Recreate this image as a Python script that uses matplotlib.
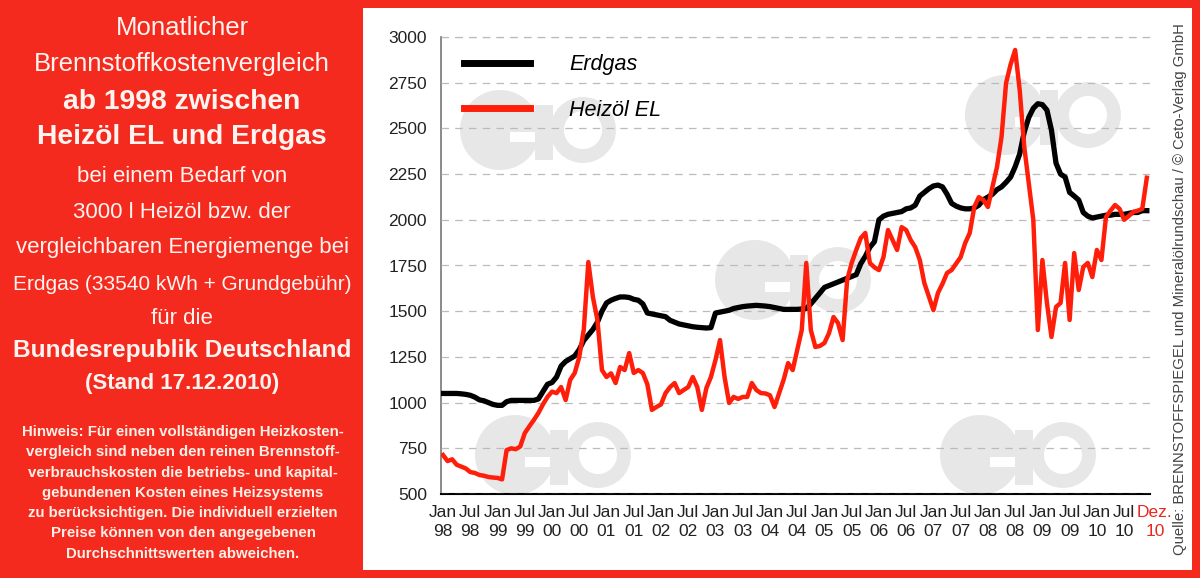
"""Monatlicher Brennstoffkostenvergleich Heizöl EL vs. Erdgas, 1998-2010."""

import matplotlib

matplotlib.use("Agg")
import matplotlib.pyplot as plt
from matplotlib.lines import Line2D
from matplotlib.patches import Ellipse, Rectangle
from matplotlib.transforms import ScaledTranslation

plt.rcParams["font.family"] = ["Liberation Sans", "DejaVu Sans"]

# monthly values Jan 1998 .. Dec 2010 (EUR)
ERDGAS = [
    1050, 1050, 1050, 1050, 1048, 1045, 1040, 1030, 1015, 1010, 1000, 990,
    985, 985, 1005, 1012, 1012, 1012, 1012, 1012, 1012, 1020, 1060, 1100,
    1110, 1140, 1200, 1225, 1240, 1255, 1290, 1340, 1370, 1400, 1440, 1500,
    1545, 1560, 1570, 1578, 1578, 1575, 1565, 1560, 1540, 1490, 1485, 1480,
    1475, 1470, 1450, 1440, 1430, 1425, 1420, 1415, 1412, 1410, 1408, 1410,
    1490, 1495, 1500, 1505, 1515, 1520, 1525, 1528, 1530, 1532, 1530, 1528,
    1525, 1520, 1515, 1510, 1510, 1510, 1510, 1512, 1515, 1540, 1570, 1600,
    1630, 1640, 1650, 1660, 1670, 1680, 1690, 1700, 1760, 1800, 1850, 1880,
    2000, 2020, 2030, 2035, 2040, 2045, 2060, 2065, 2080, 2130, 2150, 2170,
    2185, 2190, 2180, 2140, 2090, 2075, 2065, 2060, 2060, 2065, 2080, 2110,
    2124, 2140, 2165, 2180, 2205, 2234, 2290, 2360, 2480, 2560, 2610, 2635,
    2630, 2600, 2490, 2310, 2250, 2234, 2150, 2130, 2108, 2040, 2020, 2010,
    2015, 2020, 2025, 2025, 2030, 2030, 2030, 2035, 2040, 2040, 2050, 2050,
]

HEIZOEL = [
    713, 680, 690, 660, 650, 640, 620, 615, 604, 600, 593, 590,
    588, 580, 740, 750, 745, 760, 833, 870, 905, 943, 990, 1031,
    1060, 1052, 1085, 1014, 1124, 1162, 1249, 1400, 1769, 1578, 1452, 1178,
    1140, 1160, 1107, 1195, 1178, 1271, 1162, 1178, 1162, 1100, 960, 976,
    990, 1052, 1085, 1107, 1052, 1069, 1085, 1140, 1085, 960, 1080, 1140,
    1233, 1342, 1140, 998, 1031, 1020, 1031, 1031, 1107, 1069, 1052, 1050,
    1040, 976, 1050, 1124, 1216, 1178, 1288, 1397, 1764, 1397, 1304, 1310,
    1326, 1380, 1468, 1435, 1342, 1671, 1764, 1835, 1900, 1928, 1764, 1740,
    1725, 1796, 1944, 1889, 1835, 1960, 1944, 1889, 1850, 1780, 1654, 1580,
    1506, 1600, 1650, 1709, 1725, 1760, 1796, 1873, 1928, 2070, 2124, 2108,
    2070, 2180, 2289, 2453, 2748, 2850, 2929, 2710, 2400, 2200, 2000, 1397,
    1780, 1545, 1359, 1523, 1545, 1764, 1452, 1818, 1616, 1742, 1764, 1687,
    1835, 1780, 2015, 2050, 2081, 2060, 2000, 2020, 2043, 2050, 2060, 2230,
]

YEARS = ["98", "99", "00", "01", "02", "03", "04", "05", "06", "07", "08", "09", "10"]
TICK_LABELS = [f"{m}\n{y}" for y in YEARS for m in ("Jan", "Jul")] + ["Dez.\n10"]
TICK_MONTHS = list(range(0, 151, 6)) + [155]
Y_TICKS = [500, 750, 1000, 1250, 1500, 1750, 2000, 2250, 2500, 2750, 3000]

PANEL_TEXT = [
    ("Monatlicher", 28, 18.5, "normal"),
    ("Brennstoffkostenvergleich", 64, 18.5, "normal"),
    ("ab 1998 zwischen", 102, 20.3, "bold"),
    ("Heizöl EL und Erdgas", 137, 20.3, "bold"),
    ("bei einem Bedarf von", 176, 16, "normal"),
    ("3000 l Heizöl bzw. der", 213, 16, "normal"),
    ("vergleichbaren Energiemenge bei", 247, 16, "normal"),
    ("Erdgas (33540 kWh + Grundgebühr)", 284, 15, "normal"),
    ("für die", 318, 16, "normal"),
    ("Bundesrepublik Deutschland", 351, 17.6, "bold"),
    ("(Stand 17.12.2010)", 384, 16, "bold"),
]
HINWEIS = [
    "Hinweis: Für einen vollständigen Heizkosten-",
    "vergleich sind neben den reinen Brennstoff-",
    "verbrauchskosten die betriebs- und kapital-",
    "gebundenen Kosten eines Heizsystems",
    "zu berücksichtigen. Die individuell erzielten",
    "Preise können von den angegebenen",
    "Durchschnittswerten abweichen.",
]

RED = "#f52a1e"
LOGO = "#e7e7e7"
W, H = 1200, 578

fig = plt.figure(figsize=(12, 5.78), dpi=100, facecolor=RED)
fig.patches.append(Rectangle((363 / W, 1 - 570 / H), (1192 - 363) / W, (570 - 8) / H,
                             transform=fig.transFigure, facecolor="white", edgecolor="none",
                             zorder=-5))

for txt, ypx, size, weight in PANEL_TEXT:
    fig.text(182 / W, 1 - ypx / H, txt, ha="center", va="center", color="#fff4f0",
             fontsize=size, fontweight=weight)
for i, txt in enumerate(HINWEIS):
    fig.text(183 / W, 1 - (432 + i * 20.3) / H, txt, ha="center", va="center",
             color="#fff0e8", fontsize=10.8, fontweight="bold")

ax = fig.add_axes([441 / W, 1 - 494 / H, (1150 - 441) / W, (494 - 37) / H])
ax.set_facecolor("none")
ax.set_axisbelow(False)


def logo(cx, cy):
    # faint publisher watermark, drawn in figure pixels
    tf = fig.transFigure
    ax.add_patch(Ellipse(((cx - 35) / W, 1 - cy / H), 80 / W, 80 / H, transform=tf,
                         facecolor=LOGO, edgecolor="none", zorder=0, clip_on=False))
    ax.add_patch(Rectangle(((cx - 25) / W, 1 - (cy + 12) / H), 40 / W, 10 / H, transform=tf,
                           facecolor="white", edgecolor="none", zorder=0, clip_on=False))
    ax.add_patch(Rectangle((cx / W, 1 - (cy + 30) / H), 18 / W, 55 / H, transform=tf,
                           facecolor=LOGO, edgecolor="none", zorder=0, clip_on=False))
    ax.add_patch(Ellipse(((cx + 48) / W, 1 - cy / H), 52 / W, 52 / H, transform=tf,
                         facecolor="none", edgecolor=LOGO, lw=10, zorder=0, clip_on=False))


for xp, yp in [(535, 130), (790, 280), (550, 455), (1015, 455), (1040, 115)]:
    logo(xp, yp)

months = range(len(ERDGAS))
ax.plot(months, ERDGAS, color="black", lw=3.8, solid_joinstyle="round", zorder=3)
ax.plot(months, HEIZOEL, color="#ff1e0a", lw=3.2, solid_joinstyle="round", zorder=4)

ax.set_xlim(-0.45, 155.7)
ax.set_ylim(500, 3000)
ax.set_yticks(Y_TICKS)
ax.set_xticks(TICK_MONTHS)
ax.set_xticklabels(TICK_LABELS, linespacing=1.35)
ax.tick_params(axis="both", length=0, labelsize=12.5, colors="#222222")
ax.tick_params(axis="y", pad=10)
ax.tick_params(axis="x", pad=8)
last = ax.get_xticklabels()[-1]
last.set_color("#e8281e")
last.set_transform(last.get_transform() + ScaledTranslation(0.08, 0, fig.dpi_scale_trans))
ax.grid(axis="y", color="#bbbbbb", linestyle=(0, (6, 5)), lw=0.9, zorder=1)
ax.axhline(3000, color="#bbbbbb", linestyle=(0, (6, 5)), lw=0.9, clip_on=False, zorder=1)
for s in ("top", "right"):
    ax.spines[s].set_visible(False)
ax.spines["left"].set_color("#777777")
ax.spines["left"].set_linewidth(1.2)
ax.spines["bottom"].set_color("black")
ax.spines["bottom"].set_linewidth(1.5)

handles = [Line2D([], [], color="black", lw=5), Line2D([], [], color="#ff1e0a", lw=5)]
leg = ax.legend(handles, ["Erdgas", "Heizöl EL"], loc="upper left", bbox_to_anchor=(0.032, 0.962),
                frameon=False, handlelength=3.1, handletextpad=1.8, labelspacing=1.14,
                borderpad=0, borderaxespad=0, prop={"style": "italic", "size": 15.5})

fig.text(1180 / W, 1 - 289 / H,
         "Quelle: BRENNSTOFFSPIEGEL und Mineralölrundschau / © Ceto-Verlag GmbH",
         rotation=90, ha="center", va="center", fontsize=10.7, color="#444444")

fig.savefig("out.png", dpi=100, facecolor=RED)
